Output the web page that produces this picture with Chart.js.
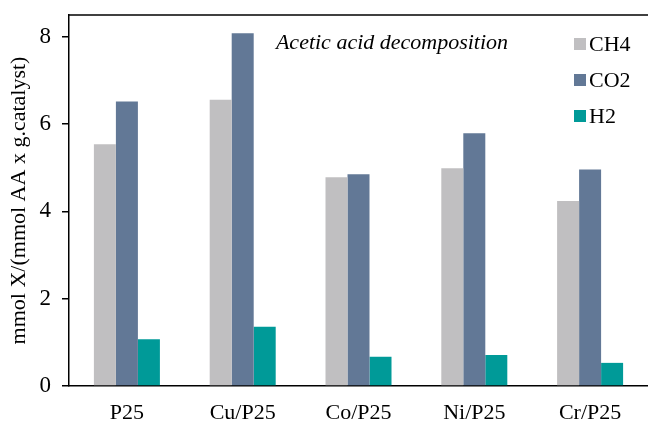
<!DOCTYPE html>
<html>
<head>
<meta charset="utf-8">
<script src="https://cdn.jsdelivr.net/npm/chart.js@4/dist/chart.umd.min.js"></script>
<style>
  html, body { margin: 0; padding: 0; background: #fff; }
  #wrap { width: 648px; height: 421px; }
</style>
</head>
<body>
<div id="wrap"><canvas id="chart" width="648" height="421"></canvas></div>
<script>
var categories = ["P25", "Cu/P25", "Co/P25", "Ni/P25", "Cr/P25"];
var ch4 = [5.54, 6.56, 4.78, 4.99, 4.24];
var co2 = [6.52, 8.08, 4.85, 5.79, 4.96];
var h2 = [1.07, 1.36, 0.67, 0.71, 0.53];
var yTicks = [0, 2, 4, 6, 8];
var chartTitle = "Acetic acid decomposition";
var yTitle = "mmol X/(mmol AA x g.catalyst)";

var serif = "'Liberation Serif', 'DejaVu Serif', serif";

// draws the top frame line, italic title and the legend inside the plot
var overlay = {
    id: 'overlay',
    afterDraw: function (chart) {
        var ctx = chart.ctx;
        var area = chart.chartArea;
        ctx.save();
        ctx.strokeStyle = '#000';
        ctx.lineWidth = 1.5;
        ctx.beginPath();
        ctx.moveTo(area.left, area.top);
        ctx.lineTo(area.right, area.top);
        ctx.stroke();

        ctx.fillStyle = '#000';
        ctx.font = "italic 22px " + serif;
        ctx.textAlign = 'center';
        ctx.textBaseline = 'middle';
        ctx.fillText(chartTitle, 392, 43);

        ctx.font = "22px " + serif;
        ctx.textAlign = 'left';
        chart.data.datasets.forEach(function (ds, i) {
            var y = 44 + i * 36;
            ctx.fillStyle = ds.backgroundColor;
            ctx.fillRect(574, y - 6, 12, 12);
            ctx.fillStyle = '#000';
            ctx.fillText(ds.label, 589, y + 1);
        });
        ctx.restore();
    }
};

var chart = new Chart(document.getElementById('chart'), {
    type: 'bar',
    data: {
        labels: categories,
        datasets: [
            { label: 'CH4', data: ch4, backgroundColor: '#c0bfc1' },
            { label: 'CO2', data: co2, backgroundColor: '#627896' },
            { label: 'H2', data: h2, backgroundColor: '#009a98' }
        ]
    },
    options: {
        responsive: false,
        animation: false,
        layout: { padding: { top: 15, right: 0, left: 0, bottom: 0 } },
        datasets: {
            bar: { categoryPercentage: 0.57, barPercentage: 1.0 }
        },
        plugins: {
            legend: { display: false },
            title: { display: false },
            tooltip: { enabled: false }
        },
        scales: {
            x: {
                grid: { display: false },
                border: { display: true, color: '#000', width: 1.5 },
                ticks: { color: '#000', font: { family: serif, size: 22 }, padding: 6, maxRotation: 0 },
                afterFit: function (scale) {
                    scale.height = 35;
                    scale.paddingLeft = 0;
                    scale.paddingRight = 0;
                }
            },
            y: {
                min: 0,
                max: 8.5,
                afterBuildTicks: function (scale) {
                    scale.ticks = yTicks.map(function (v) { return { value: v }; });
                },
                grid: { drawOnChartArea: false, tickLength: 7, color: '#000', lineWidth: 1.5 },
                border: { display: true, color: '#000', width: 1.5 },
                ticks: { color: '#000', font: { family: serif, size: 23 }, padding: 11 },
                title: { display: true, text: yTitle, color: '#000', font: { family: serif, size: 22 }, padding: { top: 6, bottom: 0 } },
                afterFit: function (scale) {
                    scale.width = 69;
                    scale.paddingTop = 0;
                    scale.paddingBottom = 0;
                }
            }
        }
    },
    plugins: [overlay]
});
</script>
</body>
</html>
